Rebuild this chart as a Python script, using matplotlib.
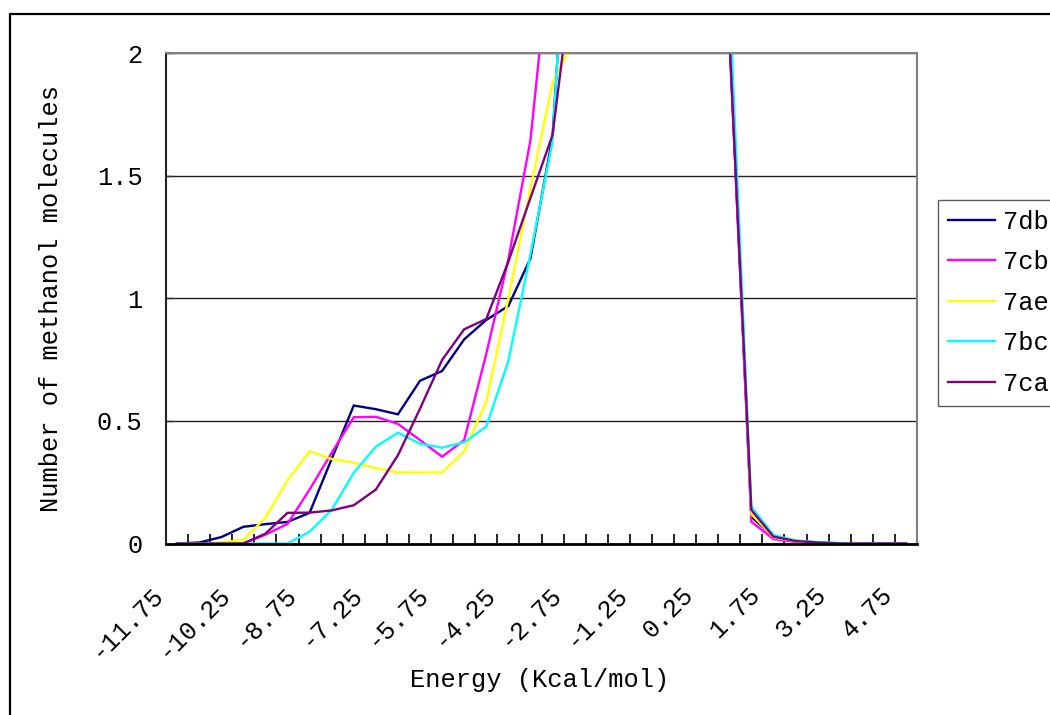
import numpy as np
import matplotlib
matplotlib.use("Agg")
import matplotlib.pyplot as plt
from matplotlib.patches import Rectangle
from matplotlib.transforms import blended_transform_factory, ScaledTranslation

# Energy bins (Kcal/mol), one category per bin
energy = [-11.75, -11.25, -10.75, -10.25, -9.75, -9.25, -8.75, -8.25, -7.75,
          -7.25, -6.75, -6.25, -5.75, -5.25, -4.75, -4.25, -3.75, -3.25,
          -2.75, -2.25, -1.75, -1.25, -0.75, -0.25, 0.25, 0.75, 1.25, 1.75,
          2.25, 2.75, 3.25, 3.75, 4.25, 4.75]

# Number of methanol molecules per energy bin
s_7db = [0, 0.004, 0.026, 0.068, 0.079, 0.088, 0.125, 0.345, 0.563, 0.548,
         0.527, 0.664, 0.704, 0.833, 0.912, 0.969, 1.163, 1.66, 3.1, 5.2,
         8.4, 11.6, 12.3, 9.1, 5.4, 2.1, 0.109, 0.028, 0.011, 0.004,
         0, 0, 0, 0]
s_7cb = [0, 0, 0, 0, 0.036, 0.08, 0.22, 0.37, 0.515, 0.517,
         0.488, 0.422, 0.354, 0.422, 0.774, 1.16, 1.646, 2.52, 4.3, 6.9,
         9.8, 12.1, 11.4, 8.2, 4.6, 2.08, 0.089, 0.018, 0.006, 0.002,
         0, 0, 0, 0]
s_7ae = [0, 0, 0.004, 0.015, 0.105, 0.258, 0.376, 0.345, 0.33, 0.307,
         0.29, 0.29, 0.29, 0.375, 0.579, 1.0, 1.45, 1.878, 2.06, 3.6,
         6.5, 9.7, 10.8, 8.6, 5.1, 2.15, 0.12, 0.025, 0.009, 0.003,
         0, 0, 0, 0]
s_7bc = [0, 0, 0, 0, 0, 0, 0.048, 0.137, 0.289, 0.395,
         0.452, 0.407, 0.391, 0.413, 0.477, 0.745, 1.18, 1.64, 3.2, 5.8,
         9.1, 11.9, 11.7, 8.8, 5.0, 2.25, 0.15, 0.035, 0.012, 0.006,
         0.002, 0, 0, 0]
s_7ca = [0, 0, 0, 0, 0.04, 0.125, 0.126, 0.135, 0.156, 0.22,
         0.36, 0.55, 0.749, 0.874, 0.916, 1.15, 1.41, 1.667, 2.39, 4.1,
         7.2, 10.4, 11.8, 9.3, 5.6, 2.08, 0.137, 0.028, 0.01, 0.004,
         0, 0, 0, 0]

series_names = ["7db", "7cb", "7ae", "7bc", "7ca"]
series_colors = ["#000080", "#FF00FF", "#FFFF00", "#00FFFF", "#800080"]

x_tick_labels = ["-11.75", "-10.25", "-8.75", "-7.25", "-5.75", "-4.25",
                 "-2.75", "-1.25", "0.25", "1.75", "3.25", "4.75"]
y_ticks = [0, 0.5, 1, 1.5, 2]
y_tick_labels = ["0", "0.5", "1", "1.5", "2"]

plt.rcParams["font.family"] = ["Liberation Mono", "DejaVu Sans Mono"]
FS = 18.3

W, H = 1050, 715
fig = plt.figure(figsize=(W / 100, H / 100), dpi=100)
fig.patch.set_facecolor("white")

# outer chart border (runs off the right and bottom edges)
fig.patches.append(Rectangle((9.5 / W, -0.05), 1.2, (H - 13.5) / H + 0.05,
                             transform=fig.transFigure, fill=False,
                             edgecolor="black", lw=1.6))

L, R, T, B = 166, 917, 53.3, 543.5
ax = fig.add_axes([L / W, (H - B) / H, (R - L) / W, (B - T) / H])

cats = np.arange(len(energy))
all_series = [s_7db, s_7cb, s_7ae, s_7bc, s_7ca]
handles = []
for vals, name, col in zip(all_series, series_names, series_colors):
    ln, = ax.plot(cats, vals, color=col, lw=1.7, label=name,
                  solid_joinstyle="miter")
    handles.append(ln)

ax.set_xlim(-0.5, len(energy) - 0.5)
ax.set_ylim(0, 2)

# horizontal gridlines
ax.set_yticks(y_ticks)
ax.set_yticklabels(y_tick_labels, fontsize=FS)
ax.yaxis.grid(True, color="#222222", lw=1)
ax.set_axisbelow(True)
ax.tick_params(axis="y", direction="in", length=5, width=1, pad=17,
               color="#333333")

# category separators on the x axis
ax.set_xticks([])
ax.set_xticks(np.arange(0.5, len(energy) - 1, 1), minor=True)
ax.tick_params(axis="x", which="minor", direction="in", length=7,
               width=1.2, color="black")

for side in ("top", "right"):
    ax.spines[side].set_color("#808080")
    ax.spines[side].set_linewidth(1.5)
ax.spines["left"].set_color("#222222")
ax.spines["left"].set_linewidth(1.5)
ax.spines["bottom"].set_color("black")
ax.spines["bottom"].set_linewidth(2)

# rotated category labels, every third bin
trans = blended_transform_factory(ax.transData, ax.transAxes) + \
    ScaledTranslation(-17 / 100, -47 / 100, fig.dpi_scale_trans)
for lab in x_tick_labels:
    idx = energy.index(float(lab))
    ax.text(idx, 0, lab, transform=trans, rotation=45,
            rotation_mode="anchor", ha="right", va="center",
            fontsize=FS, clip_on=False)

fig.text(51 / W, 1 - 298.4 / H, "Number of methanol molecules",
         rotation=90, ha="center", va="center", fontsize=FS)
fig.text(540 / W, 1 - 680 / H, "Energy (Kcal/mol)",
         ha="center", va="center", fontsize=FS)

leg = ax.legend(handles=handles, loc="upper left",
                bbox_to_anchor=(938.3 / W, 1 - 199.5 / H),
                bbox_transform=fig.transFigure, fontsize=FS,
                frameon=True, fancybox=False, shadow=False,
                borderaxespad=0, borderpad=0.4, handlelength=1.85,
                handletextpad=0.28, labelspacing=0.65)
leg.get_frame().set_edgecolor("#333333")
leg.get_frame().set_linewidth(1)
for h in leg.legend_handles:
    h.set_linewidth(1.7)

fig.savefig("out.png", dpi=100)
